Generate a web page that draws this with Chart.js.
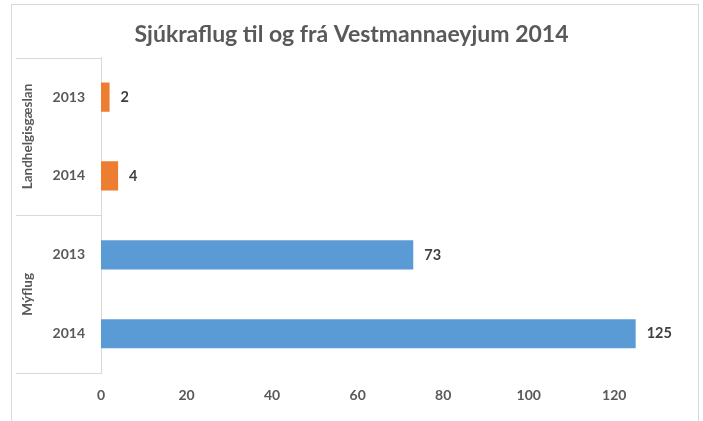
<!DOCTYPE html>
<html>
<head>
<meta charset="utf-8">
<script src="https://cdn.jsdelivr.net/npm/chart.js@4/dist/chart.umd.min.js"></script>
<style>
  html, body { margin: 0; padding: 0; background: #fff; }
  #wrap { width: 703px; height: 421px; }
</style>
</head>
<body>
<div id="wrap"><canvas id="flugChart" width="703" height="421"></canvas></div>
<script>
// Gögn
const groupNames = ['Landhelgisgæslan', 'Mýflug'];
const years = ['2013', '2014', '2013', '2014'];
const groupIndex = [0, 0, 1, 1];
const flights = [2, 4, 73, 125];
const groupColors = ['#ED7D31', '#5B9BD5'];

const FONT = 'Lato, "Open Sans", sans-serif';
const TEXT = '#595959';

// ramminn, hópaheiti og línur vinstra megin
const groupAxisPlugin = {
  id: 'groupAxis',
  beforeDraw(chart) {
    const ctx = chart.ctx;
    ctx.save();
    ctx.strokeStyle = '#d9d9d9';
    ctx.lineWidth = 1;
    ctx.strokeRect(11.5, 4.5, 687, 440);
    ctx.restore();
  },
  afterDraw(chart) {
    const ctx = chart.ctx;
    const y = chart.scales.y;
    const x0 = 16, x1 = y.right;
    const lines = [y.top];
    for (let i = 0; i < years.length - 1; i++) {
      if (groupIndex[i] !== groupIndex[i + 1]) {
        lines.push((y.getPixelForValue(i) + y.getPixelForValue(i + 1)) / 2);
      }
    }
    lines.push(y.bottom);
    ctx.save();
    ctx.strokeStyle = '#d9d9d9';
    ctx.lineWidth = 1;
    lines.forEach(ly => {
      ctx.beginPath();
      ctx.moveTo(x0, Math.round(ly) + 0.5);
      ctx.lineTo(x1, Math.round(ly) + 0.5);
      ctx.stroke();
    });
    // hópaheiti
    ctx.fillStyle = TEXT;
    ctx.font = 'bold 13.5px ' + FONT;
    ctx.textAlign = 'center';
    ctx.textBaseline = 'middle';
    groupNames.forEach((name, g) => {
      const idx = groupIndex.map((v, i) => v === g ? i : -1).filter(i => i >= 0);
      const a = y.getPixelForValue(idx[0]);
      const b = y.getPixelForValue(idx[idx.length - 1]);
      ctx.save();
      ctx.translate(28, (a + b) / 2);
      ctx.rotate(-Math.PI / 2);
      ctx.fillText(name, 0, 0);
      ctx.restore();
    });
    // gildi við enda súlna
    const meta = chart.getDatasetMeta(0);
    ctx.fillStyle = '#404040';
    ctx.font = 'bold 14.5px ' + FONT;
    ctx.textAlign = 'left';
    meta.data.forEach((bar, i) => {
      ctx.fillText(String(flights[i]), bar.x + 11, bar.y);
    });
    ctx.restore();
  }
};

const ctx = document.getElementById('flugChart').getContext('2d');
const flugChart = new Chart(ctx, {
  type: 'bar',
  data: {
    labels: years,
    datasets: [{
      data: flights,
      backgroundColor: groupIndex.map(g => groupColors[g]),
      borderWidth: 0,
      barPercentage: 0.37,
      categoryPercentage: 1
    }]
  },
  options: {
    indexAxis: 'y',
    responsive: false,
    animation: false,
    layout: { padding: { left: 16, right: 16, top: 0, bottom: 11 } },
    plugins: {
      legend: { display: false },
      tooltip: { enabled: false },
      title: {
        display: true,
        text: 'Sjúkraflug til og frá Vestmannaeyjum 2014',
        color: TEXT,
        font: { family: FONT, size: 23, weight: 'bold' },
        padding: { top: 21, bottom: 9 }
      }
    },
    scales: {
      x: {
        min: 0,
        max: 137,
        grid: { display: false },
        border: { display: false },
        afterBuildTicks(scale) {
          scale.ticks = scale.ticks.filter(t => t.value % 20 === 0);
        },
        ticks: {
          stepSize: 20,
          padding: 6,
          color: TEXT,
          font: { family: FONT, size: 14, weight: 'bold' }
        }
      },
      y: {
        grid: { display: false },
        border: { display: true, color: '#d9d9d9' },
        afterFit(scale) { scale.width = 85; },
        ticks: {
          padding: 8,
          color: TEXT,
          font: { family: FONT, size: 14, weight: 'bold' }
        }
      }
    }
  },
  plugins: [groupAxisPlugin]
});
</script>
</body>
</html>
